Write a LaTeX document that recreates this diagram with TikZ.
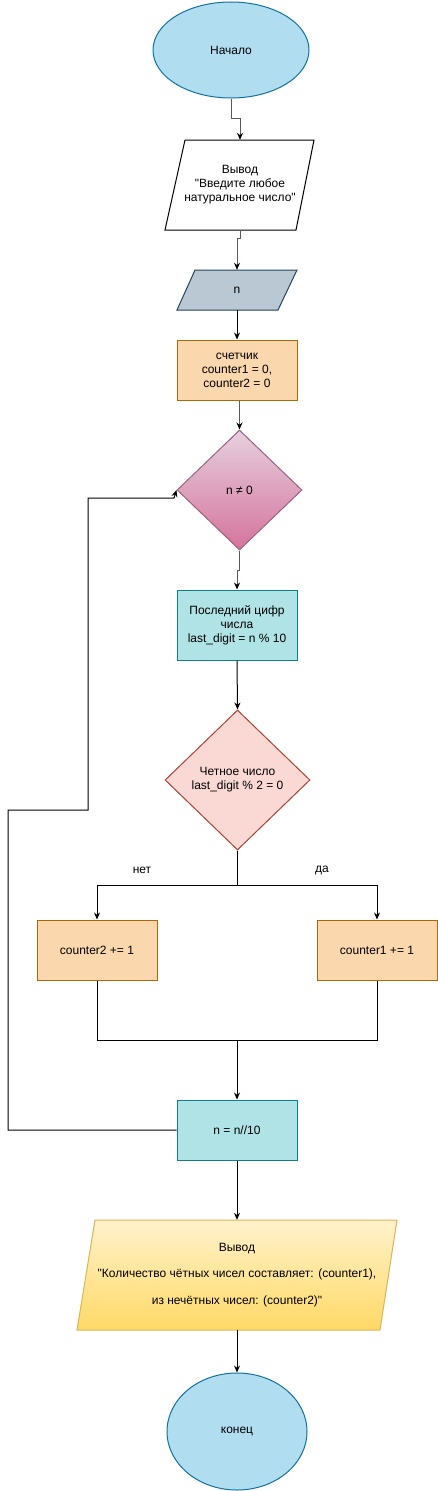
\documentclass[tikz,border=0pt]{standalone}
\usepackage{fontspec}
\setmainfont{Liberation Sans}[Ligatures=TeXOff]
\usetikzlibrary{shapes.geometric,arrows.meta}
\definecolor{termfill}{HTML}{B1DDF0}
\definecolor{termdraw}{HTML}{10739E}
\definecolor{nfill}{HTML}{BAC8D3}
\definecolor{ndraw}{HTML}{23445D}
\definecolor{orfill}{HTML}{FAD7AC}
\definecolor{ordraw}{HTML}{B46504}
\definecolor{pktop}{HTML}{E6D0DE}
\definecolor{pkbot}{HTML}{D5739D}
\definecolor{pkdraw}{HTML}{996185}
\definecolor{tlfill}{HTML}{B0E3E6}
\definecolor{tldraw}{HTML}{0E8088}
\definecolor{rdfill}{HTML}{FAD9D5}
\definecolor{rddraw}{HTML}{AE4132}
\definecolor{yltop}{HTML}{FFF2CC}
\definecolor{ylbot}{HTML}{FFD966}
\definecolor{yldraw}{HTML}{D6B656}
\definecolor{greyline}{HTML}{5A5A5A}
\tikzset{
  every node/.style={font=\fontsize{12}{14}\selectfont, align=center, inner sep=0pt},
  term/.style={ellipse, draw=termdraw, fill=termfill, line width=1pt},
  procbox/.style={rectangle, line width=1pt, minimum width=120, minimum height=60},
  ptext/.style={rectangle, minimum width=120},
  conn/.style={line width=1pt, -{Stealth[length=7pt,width=6pt]}},
  greyconn/.style={line width=1pt, draw=greyline, -{Stealth[length=7pt,width=6pt,color=black]}},
  plain/.style={line width=1pt},
}
\begin{document}
\begin{tikzpicture}[x=1pt,y=-1pt]
\useasboundingbox (0,0) rectangle (438,1491);

% start
\node[term, minimum width=156, minimum height=96] (start) at (231,50) {Начало};

% output prompt
\filldraw[fill=white, draw=black, line width=1pt] (165,230) -- (185,140) -- (314,140) -- (296,230) -- cycle;
\node[ptext, minimum height=90] (p1) at (240,185) {Вывод\\ "Введите любое\\ натуральное число"};

% input n
\filldraw[fill=nfill, draw=ndraw, line width=1pt] (177,310) -- (195,270) -- (297,270) -- (278,310) -- cycle;
\node[ptext, minimum height=40] (n) at (237,290) {n};

% counters
\node[procbox, fill=orfill, draw=ordraw] (cnt) at (237,370) {счетчик\\ counter1 = 0,\\ counter2 = 0};

% loop condition
\node[diamond, minimum width=125, minimum height=120, aspect=1.04, draw=pkdraw, top color=pktop, bottom color=pkbot, line width=1pt] (d1) at (239.5,490) {n ≠ 0};

% last digit
\node[procbox, minimum height=70, fill=tlfill, draw=tldraw] (last) at (237,625) {Последний цифр\\ числа\\ last\_digit = n \% 10};

% even test
\node[diamond, minimum width=145, minimum height=140, aspect=1.04, draw=rddraw, fill=rdfill, line width=1pt] (d2) at (237.5,780) {Четное число\\ last\_digit \% 2 = 0};

% branches
\node[procbox, fill=orfill, draw=ordraw] (c2) at (97,950) {counter2 += 1};
\node[procbox, fill=orfill, draw=ordraw] (c1) at (377,950) {counter1 += 1};

\node (no) at (142,870) {нет};
\node (yes) at (322,870) {да};

% n = n//10
\node[procbox, fill=tlfill, draw=tldraw] (nn) at (237,1130) {n = n//10};

% final output
\shade[top color=yltop, bottom color=ylbot] (77,1330) -- (95,1220) -- (397,1220) -- (380,1330) -- cycle;
\draw[draw=yldraw, line width=1pt] (77,1330) -- (95,1220) -- (397,1220) -- (380,1330) -- cycle;
\node[ptext, minimum width=300, minimum height=110, font=\fontsize{12}{26.5}\selectfont] (out) at (237,1275) {Вывод\\ "Количество чётных чисел составляет: (counter1),\\ из нечётных чисел: (counter2)"};

% end
\node[term, minimum width=140, minimum height=117] (end) at (237,1431.5) {конец};

% connectors
\draw[greyconn] (start.south) -- ++(0,20) -| (p1.north);
\draw[greyconn] (p1.south) -- ++(0,8) -| (n.north);
\draw[conn] (n.south) -- (cnt.north);
\draw[greyconn] (d1.north |- cnt.south) -- (d1.north);
\draw[greyconn] (d1.south) -- ++(0,20) -| (last.north);
\draw[conn] (last.south) -- (d2.north);
\draw[conn] (d2.south) -- ++(0,35) -| (c2.north);
\draw[conn] (d2.south) -- ++(0,35) -| (c1.north);
\coordinate (join) at (237,1040);
\draw[plain] (c2.south) |- (join) -| (c1.south);
\draw[conn] (join) -- (nn.north);
\coordinate (lpa) at (8,810);
\coordinate (lpb) at (88,498);
\draw[conn] (nn.west) -| (lpa) -| (lpb) -- ++(86,0) -- (d1.west);
\draw[conn] (nn.south) -- (out.north);
\draw[conn] (out.south) -- (end.north);
\end{tikzpicture}
\end{document}
